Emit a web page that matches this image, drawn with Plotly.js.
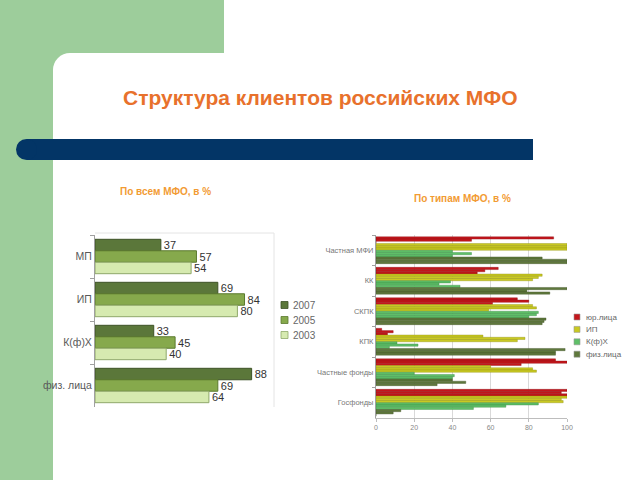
<!DOCTYPE html>
<html><head><meta charset="utf-8">
<script src="https://cdn.plot.ly/plotly-3.0.1.min.js"></script>
<style>html,body{margin:0;padding:0;background:#fff;overflow:hidden}#c{width:640px;height:480px;overflow:hidden}</style>
</head><body><div id="c"></div>
<script>
// ---- Left chart data: all MFIs, % ----
const clientCats = ['МП', 'ИП', 'К(ф)Х', 'физ. лица'];
const years = ['2007', '2005', '2003'];
const all2007 = [37, 69, 33, 88];
const all2005 = [57, 84, 45, 69];
const all2003 = [54, 80, 40, 64];

// ---- Right chart data: by MFI type, % ----
const typeCats = ['Частная МФИ', 'КК', 'СКПК', 'КПК', 'Частные фонды', 'Госфонды'];
const groupNames = ['юр.лица', 'ИП', 'К(ф)Х', 'физ.лица'];
const ul2007 = [93, 64, 74, 3, 94, 100];
const ul2005 = [50, 57, 80, 9, 100, 97];
const ul2003 = [0, 53, 61, 6, 76, 100];
const ip2007 = [100, 87, 82, 56, 60, 100];
const ip2005 = [100, 85, 84, 78, 82, 97];
const ip2003 = [100, 82, 59, 74, 84, 98];
const kfh2007 = [40, 39, 85, 11, 20, 85];
const kfh2005 = [50, 33, 84, 22, 41, 68];
const kfh2003 = [40, 44, 80, 7, 40, 51];
const fl2007 = [87, 100, 89, 99, 40, 13];
const fl2005 = [100, 79, 88, 94, 47, 9];
const fl2003 = [100, 91, 87, 94, 32, 0];

const W = 640, H = 480;
const px = x => x / W, py = y => 1 - y / H;
const font = 'Liberation Sans, Arial, sans-serif';

const leftColors = ['#5b773a', '#86a94c', '#d6eab0'];
const leftLines = ['#3e5227', '#5b7a2e', '#8fa86a'];
const leftSeries = [all2007, all2005, all2003];
const traces = [];
leftSeries.forEach((vals, i) => {
  traces.push({
    type: 'bar', orientation: 'h', name: years[i],
    y: clientCats, x: vals, xaxis: 'x', yaxis: 'y',
    marker: {color: leftColors[i], line: {color: leftLines[i], width: 1}},
    text: vals.map(String), textposition: 'outside', constraintext: 'none', cliponaxis: false,
    textfont: {family: font, size: 11, color: '#333'},
    hoverinfo: 'x'
  });
});

const rightColors = ['#c4161c', '#c9c922', '#5fbf68', '#5f783c'];
const rightLines = ['#8a0e12', '#8f8f10', '#3a8a44', '#3e5126'];
const rightSeries = [[ul2007, ul2005, ul2003], [ip2007, ip2005, ip2003], [kfh2007, kfh2005, kfh2003], [fl2007, fl2005, fl2003]];
const nBars = 12, groupSpan = 0.88, bw = groupSpan / nBars;
rightSeries.forEach((grp, g) => {
  grp.forEach((vals, k) => {
    const idx = g * 3 + k;
    traces.push({
      type: 'bar', orientation: 'h', name: groupNames[g] + ' ' + years[k],
      y: typeCats, x: vals, xaxis: 'x2', yaxis: 'y2',
      width: bw, offset: -groupSpan / 2 + idx * bw,
      marker: {color: rightColors[g], line: {color: rightLines[g], width: 0.4}},
      hoverinfo: 'x'
    });
  });
});

const G = '#9dcd9b', B = '#033566';
const shapes = [
  {type: 'rect', xref: 'paper', yref: 'paper', x0: 0, x1: px(224), y0: py(53), y1: 1, fillcolor: G, line: {width: 0}, layer: 'below'},
  {type: 'rect', xref: 'paper', yref: 'paper', x0: 0, x1: px(53), y0: 0, y1: 1, fillcolor: G, line: {width: 0}, layer: 'below'},
  {type: 'rect', xref: 'paper', yref: 'paper', x0: px(53), x1: px(70), y0: py(70), y1: py(53), fillcolor: G, line: {width: 0}, layer: 'below'},
  {type: 'circle', xref: 'paper', yref: 'paper', x0: px(53), x1: px(87), y0: py(87), y1: py(53), fillcolor: '#ffffff', line: {width: 0}, layer: 'below'},
  {type: 'rect', xref: 'paper', yref: 'paper', x0: px(27), x1: px(533), y0: py(160), y1: py(139), fillcolor: B, line: {width: 0}, layer: 'below'},
  {type: 'circle', xref: 'paper', yref: 'paper', x0: px(16), x1: px(37), y0: py(160), y1: py(139), fillcolor: B, line: {width: 0}, layer: 'below'},
  // faint frame of left plot (top and right edges)
  {type: 'line', xref: 'paper', yref: 'paper', x0: px(95), x1: px(274), y0: py(233), y1: py(233), line: {color: '#e4e4e4', width: 1}},
  {type: 'line', xref: 'paper', yref: 'paper', x0: px(274), x1: px(274), y0: py(233), y1: py(407), line: {color: '#e4e4e4', width: 1}}
];

const annotations = [
  {text: '<b>Структура клиентов российских МФО</b>', xref: 'paper', yref: 'paper', x: px(320), y: py(97), xanchor: 'center', yanchor: 'middle', showarrow: false, font: {family: font, size: 21, color: '#e8712c'}},
  {text: '<b>По всем МФО, в %</b>', xref: 'paper', yref: 'paper', x: px(165), y: py(191), xanchor: 'center', yanchor: 'middle', showarrow: false, font: {family: font, size: 10, color: '#f29b33'}},
  {text: '<b>По типам МФО, в %</b>', xref: 'paper', yref: 'paper', x: px(462), y: py(198), xanchor: 'center', yanchor: 'middle', showarrow: false, font: {family: font, size: 10, color: '#f29b33'}}
];

// compact legends (legend keys as shapes + labels)
years.forEach((yr, i) => {
  const yc = 305 + i * 15;
  shapes.push({type: 'rect', xref: 'paper', yref: 'paper', x0: px(281), x1: px(288), y0: py(yc + 3.5), y1: py(yc - 3.5), fillcolor: leftColors[i], line: {color: leftLines[i], width: 0.8}});
  annotations.push({text: yr, xref: 'paper', yref: 'paper', x: px(291), y: py(yc), xanchor: 'left', yanchor: 'middle', showarrow: false, font: {family: font, size: 10, color: '#666'}});
});
groupNames.forEach((nm, g) => {
  const yc = 317 + g * 12.4;
  shapes.push({type: 'rect', xref: 'paper', yref: 'paper', x0: px(574), x1: px(580), y0: py(yc + 3), y1: py(yc - 3), fillcolor: rightColors[g], line: {color: '#999', width: 0.6}});
  annotations.push({text: nm, xref: 'paper', yref: 'paper', x: px(584), y: py(yc), xanchor: 'left', yanchor: 'middle', showarrow: false, font: {family: font, size: 8, color: '#666'}});
});

const layout = {
  width: W, height: H, margin: {l: 0, r: 0, t: 0, b: 0},
  paper_bgcolor: '#ffffff', plot_bgcolor: 'rgba(0,0,0,0)',
  font: {family: font, color: '#555'}, showlegend: false,
  barmode: 'group', bargap: 0.2, bargroupgap: 0,
  shapes: shapes, annotations: annotations,
  xaxis: {domain: [px(95), px(273)], range: [0, 100], showticklabels: false, showgrid: false, zeroline: false, showline: false, fixedrange: true},
  yaxis: {domain: [py(407), py(235)], anchor: 'x', autorange: 'reversed', type: 'category',
    showline: true, linecolor: '#a0a0a0', linewidth: 1, ticks: 'outside', tickson: 'boundaries', ticklen: 4, tickcolor: '#a0a0a0',
    tickfont: {family: font, size: 10.5, color: '#595959'}, showgrid: false, zeroline: false},
  xaxis2: {domain: [px(376), px(567)], anchor: 'y2', range: [0, 100], tickvals: [0, 20, 40, 60, 80, 100],
    showgrid: true, gridcolor: '#d9d9d9', gridwidth: 1, zeroline: false, showline: true, linecolor: '#bdbdbd',
    ticks: 'outside', ticklen: 3, tickcolor: '#bdbdbd', tickfont: {family: font, size: 7, color: '#888'}},
  yaxis2: {domain: [py(418), py(235)], anchor: 'x2', autorange: 'reversed', type: 'category',
    showline: true, linecolor: '#a0a0a0', ticks: 'outside', tickson: 'boundaries', ticklen: 3, tickcolor: '#a0a0a0',
    tickfont: {family: font, size: 7.5, color: '#777'}, showgrid: false, zeroline: false}
};

Plotly.newPlot('c', traces, layout, {displayModeBar: false, staticPlot: true});
</script></body></html>
